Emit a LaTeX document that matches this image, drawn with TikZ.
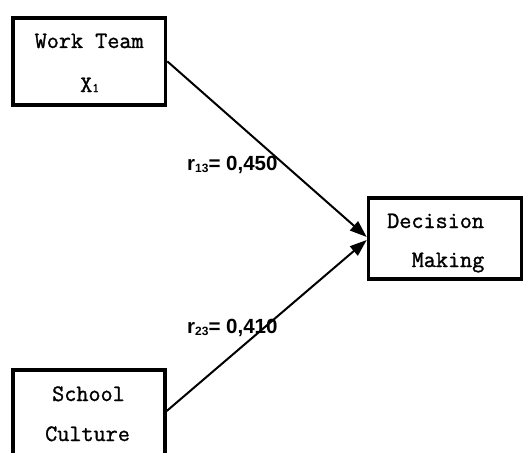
\documentclass[tikz,border=0pt]{standalone}
\usepackage{fontspec}
\newfontfamily\labfont{Liberation Sans}
\newfontfamily\boxfont{Latin Modern Mono}[FakeBold=1.2]
\usetikzlibrary{arrows.meta,calc}
\tikzset{
  boxstyle/.style={draw, line width=3.6pt, rectangle, inner sep=0pt, minimum width=#1},
  boxtext/.style={anchor=base west, inner sep=0pt, font=\fontsize{23.5}{26}\boxfont},
  labtext/.style={anchor=base west, inner sep=0pt, font=\fontsize{20.5}{24}\labfont\bfseries},
  conn/.style={line width=2pt, -{Triangle[length=17pt,width=12pt]}}
}
\newcommand{\subnum}[1]{\raisebox{-2pt}{\fontsize{12}{12}\selectfont #1}}
\begin{document}
\begin{tikzpicture}[x=1pt,y=-1pt]
\useasboundingbox (0,0) rectangle (524,452);
\clip (0,0) rectangle (524,452);
% boxes
\node[boxstyle=152.7pt, minimum height=87.1pt] (wt) at (89.15,61.35) {};
\node[boxstyle=153pt, minimum height=81.4pt] (dm) at (445,238.5) {};
\node[boxstyle=152.1pt, minimum height=150pt] (sc) at (88.85,445.1) {};
% texts
\node[boxtext] (wt1) at (34.5,48) {Work Team};
\node[boxtext] (wt2) at (80,92) {X{\fontsize{13}{14}\selectfont 1}};
\node[boxtext] (dm1) at (387,228) {Decision};
\node[boxtext] (dm2) at (411.5,267) {Making};
\node[boxtext] (sc1) at (52,401) {School};
\node[boxtext] (sc2) at (45,441) {Culture};
% connectors
\coordinate (scout) at ($(sc.north east)+(0,42.7)$);
\draw[conn] (wt.east) -- ($(dm.west)+(0,-1.5)$);
\draw[conn] (scout) -- ($(dm.west)+(0,1.5)$);
% labels
\node[labtext] (l13) at (187,170) {r\subnum{13}= 0,450};
\node[labtext] (l23) at (187,333) {r\subnum{23}= 0,410};
\end{tikzpicture}
\end{document}
